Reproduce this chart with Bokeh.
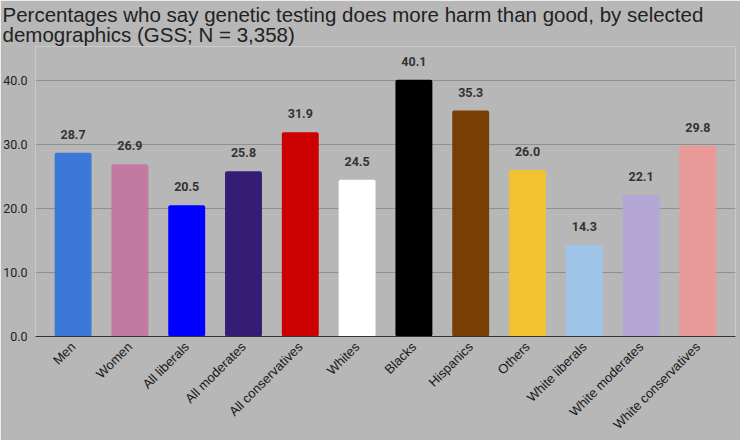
from math import pi
from bokeh.plotting import figure
from bokeh.models import ColumnDataSource, LabelSet, FixedTicker, NumeralTickFormatter, FactorRange, Range1d
from bokeh.embed import file_html
from bokeh.resources import INLINE
from bokeh.core.properties import value

categories = ["Men", "Women", "All liberals", "All moderates", "All conservatives", "Whites",
              "Blacks", "Hispanics", "Others", "White liberals", "White moderates", "White conservatives"]
values = [28.7, 26.9, 20.5, 25.8, 31.9, 24.5, 40.1, 35.3, 26.0, 14.3, 22.1, 29.8]
colors = ["#3c78d8", "#c27ba0", "#0000ff", "#351c75", "#cc0000", "#ffffff",
          "#000000", "#783f04", "#f1c232", "#9fc5e8", "#b4a7d6", "#ea9999"]
y_ticks = [0, 10, 20, 30, 40]
title_text = ("Percentages who say genetic testing does more harm than good, by selected\n"
              "demographics (GSS; N = 3,358)")

BG = "#b7b7b7"

src = ColumnDataSource(dict(cat=categories, val=values, color=colors,
                            lab=[f"{v:.1f}" for v in values]))

p = figure(width=740, height=440,
           x_range=FactorRange(factors=categories, range_padding=0.027),
           y_range=Range1d(0, 45.3),
           output_backend="svg", toolbar_location=None, title=title_text,
           min_border_left=0, min_border_right=5, min_border_top=0, min_border_bottom=0)

p.background_fill_color = BG
p.border_fill_color = BG
p.outline_line_color = None

p.title.text_font = "Liberation Sans"
p.title.text_font_size = "20.5px"
p.title.text_font_style = "normal"
p.title.text_color = "#222222"
p.title.text_line_height = 0.9
p.title.align = "left"
p.title.offset = -33
p.title.standoff = 0

p.vbar(x="cat", top="val", width=0.65, fill_color="color", line_color=None,
       border_radius=2, source=src)

labels = LabelSet(x="cat", y="val", text="lab", source=src, text_align="center",
                  text_baseline="bottom", y_offset=14, text_font_style="bold",
                  text_font_size="12.5px", text_color="#333333", text_font=value("Roboto"))
p.add_layout(labels)

p.yaxis.ticker = FixedTicker(ticks=y_ticks)
p.yaxis.formatter = NumeralTickFormatter(format="0.0")
p.yaxis.axis_line_color = None
p.yaxis.major_tick_line_color = None
p.yaxis.minor_tick_line_color = None
p.yaxis.major_tick_out = 0
p.yaxis.major_tick_in = 0
p.yaxis.major_label_text_font = "Roboto"
p.yaxis.major_label_text_font_size = "12.5px"
p.yaxis.major_label_text_color = "#222222"
p.yaxis.major_label_standoff = 8

p.xaxis.major_label_orientation = pi / 4
p.xaxis.major_tick_line_color = None
p.xaxis.minor_tick_line_color = None
p.xaxis.major_tick_out = 0
p.xaxis.major_tick_in = 0
p.xaxis.axis_line_color = "#333333"
p.xaxis.major_label_text_font = "Liberation Sans"
p.xaxis.major_label_text_font_size = "13px"
p.xaxis.major_label_text_color = "#1a1a1a"
p.xaxis.major_label_standoff = 8

p.xgrid.grid_line_color = None
p.ygrid.ticker = FixedTicker(ticks=y_ticks)
p.ygrid.grid_line_color = "#8f8f8f"

open("out.html", "w").write(file_html(p, INLINE))
